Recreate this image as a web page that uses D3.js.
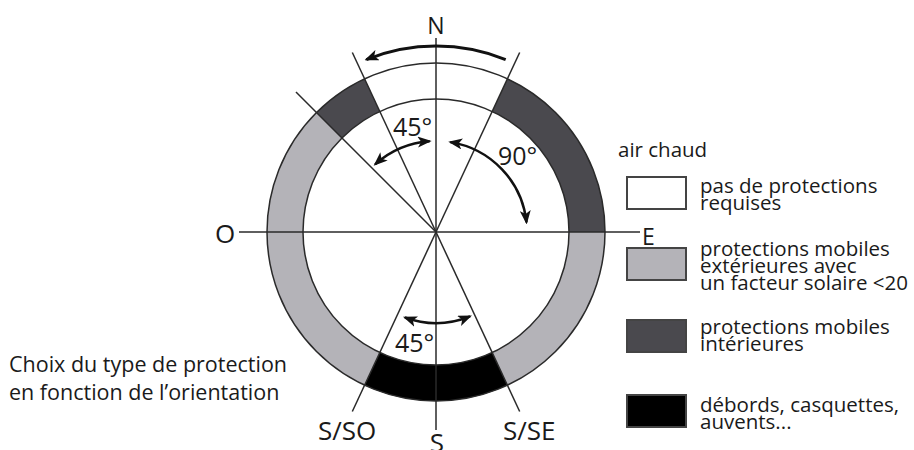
<!DOCTYPE html>
<html>
<head>
<meta charset="utf-8">
<script src="https://cdn.jsdelivr.net/npm/d3@7"></script>
<style>
  body { margin: 0; background: #fff; }
  svg text { font-family: "Open Sans", "Noto Sans", sans-serif; fill: #1a1a1a; }
</style>
</head>
<body>
<svg id="chart" width="914" height="450"></svg>
<script>
// ring sectors, angles in degrees clockwise from north
var sectorStart = [-25, 25, 90, 155, 205, 315];
var sectorEnd   = [25, 90, 155, 205, 315, 335];
var sectorType  = [0, 2, 1, 3, 1, 2];

// legend
var typeColors = ['#ffffff', '#b4b3b8', '#4a494e', '#000000'];
var typeLabels = [
  ['pas de protections', 'requises'],
  ['protections mobiles', 'extérieures avec', 'un facteur solaire <20'],
  ['protections mobiles', 'intérieures'],
  ['débords, casquettes,', 'auvents...']
];
var legendTitle = 'air chaud';

// radial lines
var lineAngles = [0, 25, 155, 180, 205, 315, 335];

// compass labels
var compassNames = ['N', 'E', 'S', 'O', 'S/SE', 'S/SO'];

// arrows (angles) and their labels
var arrowFrom  = [22, -42, 9, 158];
var arrowTo    = [-22, -4, 84, 200];
var arrowHeads = ['end', 'both', 'both', 'both'];
var angleLabels = ['45°', '90°', '45°'];

var title = ['Choix du type de protection', 'en fonction de l\u2019orientation'];

var svg = d3.select('#chart');
var cx = 436, cy = 232, rIn = 133, rOut = 169;
var deg = d3.scaleLinear().domain([0, 360]).range([0, 2 * Math.PI]);
var pt = function(a, r) {
  return [cx + r * Math.sin(deg(a)), cy - r * Math.cos(deg(a))];
};

var g = svg.append('g').attr('transform', 'translate(' + cx + ',' + cy + ')');
var ring = d3.arc().innerRadius(rIn).outerRadius(rOut);

g.selectAll('path.sector')
  .data(sectorStart)
  .enter().append('path')
    .attr('class', 'sector')
    .attr('d', function(d, i) { return ring({startAngle: deg(d), endAngle: deg(sectorEnd[i])}); })
    .style('fill', function(d, i) { return typeColors[sectorType[i]]; })
    .style('stroke', 'none');

g.selectAll('circle')
  .data([rIn, rOut])
  .enter().append('circle')
    .attr('r', function(d) { return d; })
    .style('fill', 'none').style('stroke', '#2a2a2a').style('stroke-width', 1.5);

// lines
g.selectAll('line.ray')
  .data(lineAngles)
  .enter().append('line')
    .attr('class', 'ray')
    .attr('x1', 0).attr('y1', 0)
    .attr('x2', function(d) { return pt(d, d == 0 ? 194 : 198)[0] - cx; })
    .attr('y2', function(d) { return pt(d, d == 0 ? 194 : 198)[1] - cy; })
    .style('stroke', '#2a2a2a').style('stroke-width', 1.5);

g.append('line')
  .attr('x1', 239 - cx).attr('y1', 0).attr('x2', 640 - cx).attr('y2', 0)
  .style('stroke', '#2a2a2a').style('stroke-width', 1.5);

// arrowheads
var defs = svg.append('defs');
defs.append('marker')
  .attr('id', 'head')
  .attr('viewBox', '0 0 14 11')
  .attr('refX', 12).attr('refY', 5.5)
  .attr('markerWidth', 14).attr('markerHeight', 11)
  .attr('markerUnits', 'userSpaceOnUse')
  .attr('orient', 'auto-start-reverse')
  .append('path')
    .attr('d', 'M0,0 L14,5.5 L0,11 L3.5,5.5 Z')
    .style('fill', '#111');

arrowFrom.forEach(function(a0, i) {
  var r = i == 0 ? 186 : 91;
  var p = d3.path();
  var s = deg(a0) - Math.PI / 2, e = deg(arrowTo[i]) - Math.PI / 2;
  p.arc(0, 0, r, s, e, e < s);
  var path = g.append('path')
    .attr('d', p.toString())
    .style('fill', 'none').style('stroke', '#111')
    .style('stroke-width', i == 0 ? 3 : 2.5)
    .attr('marker-end', 'url(#head)');
  if (arrowHeads[i] == 'both') path.attr('marker-start', 'url(#head)');
});

// compass labels
var compassPos = [[436, 34, 'middle', 23], [642, 245, 'start', 23], [437, 452, 'middle', 26],
                  [225, 243, 'middle', 26], [503, 440, 'start', 26], [318, 440, 'start', 26]];
svg.selectAll('text.compass')
  .data(compassNames)
  .enter().append('text')
    .attr('class', 'compass')
    .attr('x', function(d, i) { return compassPos[i][0]; })
    .attr('y', function(d, i) { return compassPos[i][1]; })
    .attr('text-anchor', function(d, i) { return compassPos[i][2]; })
    .style('font-size', function(d, i) { return compassPos[i][3] + 'px'; })
    .text(function(d) { return d; });

var anglePos = [[393, 136], [498, 165], [395, 352]];
svg.selectAll('text.angle')
  .data(angleLabels)
  .enter().append('text')
    .attr('class', 'angle')
    .attr('x', function(d, i) { return anglePos[i][0]; })
    .attr('y', function(d, i) { return anglePos[i][1]; })
    .style('font-size', '25px')
    .text(function(d) { return d; });

// legend
svg.append('text').attr('x', 618).attr('y', 157).style('font-size', '20.5px').text(legendTitle);
var boxY = [177, 248, 320, 395];
var textY = [193, 256, 334, 412];
var leg = svg.selectAll('g.leg')
  .data(typeLabels)
  .enter().append('g').attr('class', 'leg');
leg.append('rect')
  .attr('x', 627).attr('y', function(d, i) { return boxY[i]; })
  .attr('width', 59).attr('height', 32)
  .style('fill', function(d, i) { return typeColors[i]; })
  .style('stroke', '#444').style('stroke-width', 2);
leg.append('text')
  .attr('x', 700).attr('y', function(d, i) { return textY[i]; })
  .style('font-size', '20.5px')
  .selectAll('tspan')
  .data(function(d) { return d; })
  .enter().append('tspan')
    .attr('x', 700)
    .attr('dy', function(d, j) { return j == 0 ? 0 : 16.8; })
    .text(function(d) { return d; });

// title
svg.append('text')
  .attr('x', 9).attr('y', 372)
  .style('font-size', '21.5px')
  .selectAll('tspan')
  .data(title)
  .enter().append('tspan')
    .attr('x', 9)
    .attr('dy', function(d, j) { return j == 0 ? 0 : 28; })
    .text(function(d) { return d; });
</script>
</body>
</html>
